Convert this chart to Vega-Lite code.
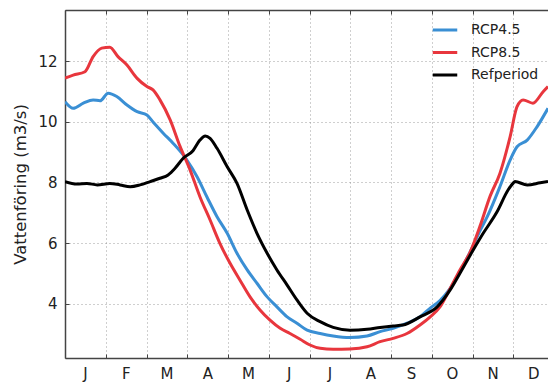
{
  "$schema": "https://vega.github.io/schema/vega-lite/v6.json",
  "width": 483,
  "height": 348,
  "autosize": {"type": "none"},
  "padding": {"left": 65, "top": 10, "right": 0, "bottom": 25},
  "background": "white",
  "config": {
    "view": {"stroke": null},
    "font": "DejaVu Sans",
    "axis": {
      "domainColor": "#444",
      "domainWidth": 1.5,
      "tickColor": "#444",
      "labelColor": "#222",
      "labelFont": "DejaVu Sans",
      "titleFont": "DejaVu Sans",
      "gridColor": "#888",
      "gridDash": [1, 3],
      "gridOpacity": 0.8,
      "gridWidth": 1
    }
  },
  "datasets": {
    "flow": [
      {"s": "RCP4.5", "m": 0.0, "v": 10.67},
      {"s": "RCP4.5", "m": 0.2, "v": 10.45},
      {"s": "RCP4.5", "m": 0.45, "v": 10.62},
      {"s": "RCP4.5", "m": 0.69, "v": 10.73},
      {"s": "RCP4.5", "m": 0.86, "v": 10.7},
      {"s": "RCP4.5", "m": 1.06, "v": 10.95},
      {"s": "RCP4.5", "m": 1.27, "v": 10.84},
      {"s": "RCP4.5", "m": 1.52, "v": 10.56},
      {"s": "RCP4.5", "m": 1.77, "v": 10.34},
      {"s": "RCP4.5", "m": 2.01, "v": 10.23},
      {"s": "RCP4.5", "m": 2.16, "v": 10.0},
      {"s": "RCP4.5", "m": 2.41, "v": 9.63},
      {"s": "RCP4.5", "m": 2.65, "v": 9.3},
      {"s": "RCP4.5", "m": 2.9, "v": 8.91},
      {"s": "RCP4.5", "m": 2.99, "v": 8.74},
      {"s": "RCP4.5", "m": 3.24, "v": 8.19},
      {"s": "RCP4.5", "m": 3.48, "v": 7.53},
      {"s": "RCP4.5", "m": 3.73, "v": 6.87},
      {"s": "RCP4.5", "m": 3.98, "v": 6.32},
      {"s": "RCP4.5", "m": 4.22, "v": 5.66},
      {"s": "RCP4.5", "m": 4.47, "v": 5.11},
      {"s": "RCP4.5", "m": 4.71, "v": 4.67},
      {"s": "RCP4.5", "m": 4.96, "v": 4.22},
      {"s": "RCP4.5", "m": 5.2, "v": 3.89},
      {"s": "RCP4.5", "m": 5.45, "v": 3.56},
      {"s": "RCP4.5", "m": 5.69, "v": 3.35},
      {"s": "RCP4.5", "m": 5.94, "v": 3.12},
      {"s": "RCP4.5", "m": 6.26, "v": 3.01},
      {"s": "RCP4.5", "m": 6.58, "v": 2.93},
      {"s": "RCP4.5", "m": 6.99, "v": 2.88},
      {"s": "RCP4.5", "m": 7.41, "v": 2.93},
      {"s": "RCP4.5", "m": 7.73, "v": 3.07},
      {"s": "RCP4.5", "m": 8.05, "v": 3.18},
      {"s": "RCP4.5", "m": 8.39, "v": 3.35},
      {"s": "RCP4.5", "m": 8.71, "v": 3.56},
      {"s": "RCP4.5", "m": 8.96, "v": 3.85},
      {"s": "RCP4.5", "m": 9.2, "v": 4.1},
      {"s": "RCP4.5", "m": 9.45, "v": 4.5},
      {"s": "RCP4.5", "m": 9.69, "v": 5.05},
      {"s": "RCP4.5", "m": 9.94, "v": 5.71},
      {"s": "RCP4.5", "m": 10.18, "v": 6.4},
      {"s": "RCP4.5", "m": 10.36, "v": 6.87},
      {"s": "RCP4.5", "m": 10.67, "v": 7.86},
      {"s": "RCP4.5", "m": 10.92, "v": 8.74},
      {"s": "RCP4.5", "m": 11.09, "v": 9.18},
      {"s": "RCP4.5", "m": 11.34, "v": 9.4},
      {"s": "RCP4.5", "m": 11.58, "v": 9.84},
      {"s": "RCP4.5", "m": 11.85, "v": 10.45},
      {"s": "RCP8.5", "m": 0.0, "v": 11.45},
      {"s": "RCP8.5", "m": 0.2, "v": 11.55},
      {"s": "RCP8.5", "m": 0.49, "v": 11.66},
      {"s": "RCP8.5", "m": 0.69, "v": 12.16},
      {"s": "RCP8.5", "m": 0.9, "v": 12.44},
      {"s": "RCP8.5", "m": 1.1, "v": 12.47},
      {"s": "RCP8.5", "m": 1.3, "v": 12.16},
      {"s": "RCP8.5", "m": 1.52, "v": 11.88},
      {"s": "RCP8.5", "m": 1.77, "v": 11.44},
      {"s": "RCP8.5", "m": 2.01, "v": 11.17},
      {"s": "RCP8.5", "m": 2.16, "v": 11.06},
      {"s": "RCP8.5", "m": 2.33, "v": 10.73},
      {"s": "RCP8.5", "m": 2.58, "v": 10.07},
      {"s": "RCP8.5", "m": 2.82, "v": 9.2},
      {"s": "RCP8.5", "m": 3.07, "v": 8.41},
      {"s": "RCP8.5", "m": 3.31, "v": 7.53},
      {"s": "RCP8.5", "m": 3.56, "v": 6.76},
      {"s": "RCP8.5", "m": 3.8, "v": 5.99},
      {"s": "RCP8.5", "m": 4.05, "v": 5.33},
      {"s": "RCP8.5", "m": 4.29, "v": 4.78},
      {"s": "RCP8.5", "m": 4.54, "v": 4.22},
      {"s": "RCP8.5", "m": 4.79, "v": 3.78},
      {"s": "RCP8.5", "m": 5.03, "v": 3.45},
      {"s": "RCP8.5", "m": 5.28, "v": 3.18},
      {"s": "RCP8.5", "m": 5.52, "v": 3.01},
      {"s": "RCP8.5", "m": 5.77, "v": 2.82},
      {"s": "RCP8.5", "m": 6.01, "v": 2.63},
      {"s": "RCP8.5", "m": 6.26, "v": 2.52},
      {"s": "RCP8.5", "m": 6.58, "v": 2.49},
      {"s": "RCP8.5", "m": 6.99, "v": 2.5},
      {"s": "RCP8.5", "m": 7.41, "v": 2.57},
      {"s": "RCP8.5", "m": 7.73, "v": 2.74},
      {"s": "RCP8.5", "m": 8.05, "v": 2.85},
      {"s": "RCP8.5", "m": 8.39, "v": 3.01},
      {"s": "RCP8.5", "m": 8.71, "v": 3.29},
      {"s": "RCP8.5", "m": 8.96, "v": 3.56},
      {"s": "RCP8.5", "m": 9.2, "v": 3.89},
      {"s": "RCP8.5", "m": 9.45, "v": 4.5},
      {"s": "RCP8.5", "m": 9.69, "v": 5.11},
      {"s": "RCP8.5", "m": 9.94, "v": 5.7},
      {"s": "RCP8.5", "m": 10.18, "v": 6.55},
      {"s": "RCP8.5", "m": 10.43, "v": 7.55},
      {"s": "RCP8.5", "m": 10.67, "v": 8.3},
      {"s": "RCP8.5", "m": 10.92, "v": 9.51},
      {"s": "RCP8.5", "m": 11.09, "v": 10.51},
      {"s": "RCP8.5", "m": 11.24, "v": 10.73},
      {"s": "RCP8.5", "m": 11.48, "v": 10.62},
      {"s": "RCP8.5", "m": 11.73, "v": 11.0},
      {"s": "RCP8.5", "m": 11.85, "v": 11.17},
      {"s": "Refperiod", "m": 0.0, "v": 8.03},
      {"s": "Refperiod", "m": 0.29, "v": 7.95},
      {"s": "Refperiod", "m": 0.54, "v": 7.97},
      {"s": "Refperiod", "m": 0.79, "v": 7.92},
      {"s": "Refperiod", "m": 1.1, "v": 7.97},
      {"s": "Refperiod", "m": 1.35, "v": 7.92},
      {"s": "Refperiod", "m": 1.6, "v": 7.86},
      {"s": "Refperiod", "m": 1.84, "v": 7.92},
      {"s": "Refperiod", "m": 2.09, "v": 8.03},
      {"s": "Refperiod", "m": 2.33, "v": 8.14},
      {"s": "Refperiod", "m": 2.53, "v": 8.25},
      {"s": "Refperiod", "m": 2.7, "v": 8.47},
      {"s": "Refperiod", "m": 2.9, "v": 8.8},
      {"s": "Refperiod", "m": 3.14, "v": 9.05},
      {"s": "Refperiod", "m": 3.31, "v": 9.4},
      {"s": "Refperiod", "m": 3.44, "v": 9.54},
      {"s": "Refperiod", "m": 3.56, "v": 9.46},
      {"s": "Refperiod", "m": 3.73, "v": 9.13},
      {"s": "Refperiod", "m": 3.98, "v": 8.52},
      {"s": "Refperiod", "m": 4.22, "v": 7.97},
      {"s": "Refperiod", "m": 4.47, "v": 7.09},
      {"s": "Refperiod", "m": 4.71, "v": 6.32},
      {"s": "Refperiod", "m": 4.96, "v": 5.66},
      {"s": "Refperiod", "m": 5.2, "v": 5.11},
      {"s": "Refperiod", "m": 5.45, "v": 4.61},
      {"s": "Refperiod", "m": 5.69, "v": 4.12},
      {"s": "Refperiod", "m": 5.94, "v": 3.68},
      {"s": "Refperiod", "m": 6.26, "v": 3.4},
      {"s": "Refperiod", "m": 6.58, "v": 3.21},
      {"s": "Refperiod", "m": 6.99, "v": 3.12},
      {"s": "Refperiod", "m": 7.41, "v": 3.15},
      {"s": "Refperiod", "m": 7.73, "v": 3.21},
      {"s": "Refperiod", "m": 8.05, "v": 3.26},
      {"s": "Refperiod", "m": 8.29, "v": 3.29},
      {"s": "Refperiod", "m": 8.71, "v": 3.56},
      {"s": "Refperiod", "m": 9.13, "v": 3.89},
      {"s": "Refperiod", "m": 9.45, "v": 4.45},
      {"s": "Refperiod", "m": 9.69, "v": 5.0},
      {"s": "Refperiod", "m": 9.99, "v": 5.71},
      {"s": "Refperiod", "m": 10.26, "v": 6.32},
      {"s": "Refperiod", "m": 10.6, "v": 7.03},
      {"s": "Refperiod", "m": 10.87, "v": 7.75},
      {"s": "Refperiod", "m": 10.99, "v": 7.97},
      {"s": "Refperiod", "m": 11.04, "v": 8.03},
      {"s": "Refperiod", "m": 11.34, "v": 7.92},
      {"s": "Refperiod", "m": 11.66, "v": 7.99},
      {"s": "Refperiod", "m": 11.85, "v": 8.03}
    ]
  },
  "data": {"name": "flow"},
  "layer": [
    {
      "mark": {"type": "line", "strokeWidth": 3, "clip": true, "interpolate": "monotone"},
      "encoding": {
        "x": {
          "field": "m",
          "type": "quantitative",
          "scale": {"domain": [0, 11.85], "nice": false, "zero": false},
          "axis": {
            "orient": "bottom",
            "title": null,
            "values": [0, 1, 2, 3, 4, 5, 6, 7, 8, 9, 10, 11],
            "labelExpr": "['J','F','M','A','M','J','J','A','S','O','N','D'][datum.value]",
            "labelOffset": 20,
            "labelAlign": "center",
            "labelFontSize": 15,
            "labelPadding": 12,
            "tickSize": -4,
            "grid": true
          }
        },
        "y": {
          "field": "v",
          "type": "quantitative",
          "scale": {"domain": [2.2, 13.7], "nice": false, "zero": false},
          "axis": {
            "title": "Vattenföring (m3/s)",
            "titleFontSize": 16.5,
            "titleFontWeight": "normal",
            "titleColor": "#222",
            "titlePadding": 9,
            "values": [4, 6, 8, 10, 12],
            "labelFontSize": 15,
            "labelPadding": 12,
            "tickSize": -4,
            "grid": true
          }
        },
        "color": {
          "field": "s",
          "type": "nominal",
          "scale": {"domain": ["RCP4.5", "RCP8.5", "Refperiod"], "range": ["#3a8fd4", "#e8363d", "#000000"]},
          "legend": {
            "orient": "none",
            "legendX": 366,
            "legendY": 12,
            "title": null,
            "symbolType": "stroke",
            "symbolSize": 600,
            "symbolStrokeWidth": 3,
            "clipHeight": 16,
            "rowPadding": 6.5,
            "labelFontSize": 14,
            "labelColor": "#222",
            "labelOffset": 12,
            "padding": 0
          }
        }
      }
    },
    {
      "mark": {"type": "line", "strokeOpacity": 0},
      "encoding": {
        "x": {
          "field": "m",
          "type": "quantitative",
          "axis": {
            "orient": "top",
            "title": null,
            "values": [0, 1, 2, 3, 4, 5, 6, 7, 8, 9, 10, 11],
            "labels": false,
            "tickSize": -4,
            "grid": false
          }
        }
      }
    }
  ],
  "resolve": {"axis": {"x": "independent"}}
}
